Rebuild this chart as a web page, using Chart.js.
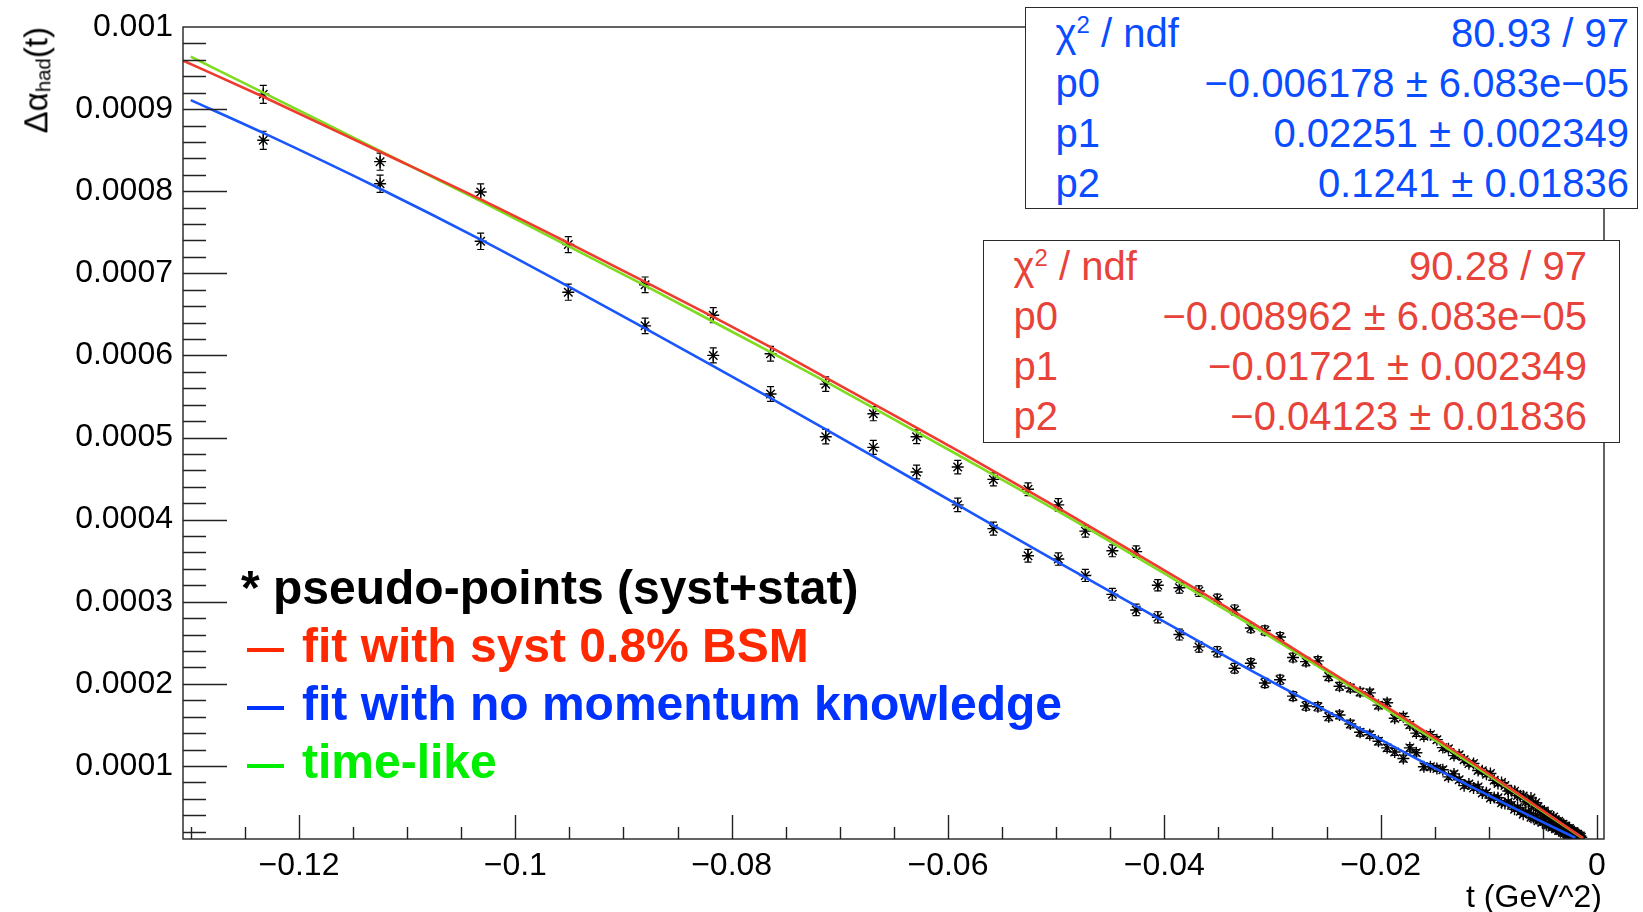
<!DOCTYPE html>
<html>
<head>
<meta charset="utf-8">
<script src="https://cdn.jsdelivr.net/npm/chart.js@4.4.1/dist/chart.umd.min.js"></script>
<style>
  html, body { margin: 0; padding: 0; background: #fff; }
  #wrap { position: relative; width: 1643px; height: 912px; overflow: hidden;
          font-family: "Liberation Sans", Arial, Helvetica, sans-serif; }
  #plot { position: absolute; left: 0; top: 0; }
  .stat { position: absolute; background: #fff; border: 1.5px solid #2a2a2a; box-sizing: border-box;
          display: flex; flex-direction: column; }
  .stat .row { flex: 1; display: flex; justify-content: space-between; align-items: center;
               font-size: 40px; white-space: nowrap; }
  .stat sup { font-size: 0.6em; vertical-align: 0.6em; line-height: 0; }
  .leg { position: absolute; font-size: 48px; line-height: 48px; font-weight: bold; white-space: nowrap; }
  .legdash { position: absolute; height: 4px; }
  #ytitle { position: absolute; top: 27px; right: 1624px; font-size: 33px; line-height: 33px;
            white-space: nowrap; transform-origin: top right; transform: rotate(-90deg); }
  #ytitle sub { font-size: 0.62em; vertical-align: -0.14em; line-height: 0; }
  #xtitle { position: absolute; top: 880px; right: 41px; font-size: 32px; line-height: 32px; white-space: nowrap; }
</style>
</head>
<body>
<div id="wrap">
  <canvas id="plot" width="1643" height="912"></canvas>
  <div id="ytitle">&Delta;&alpha;<sub>had</sub>(t)</div>
  <div id="xtitle">t (GeV^2)</div>
</div>
<script>
// momentum transfer t of every pseudo-point (GeV^2)
const tValues = [
  -0.1233, -0.1125, -0.1032, -0.0951, -0.0880, -0.0817, -0.0764, -0.0713, -0.0669, -0.0629,
  -0.0591, -0.0558, -0.0526, -0.0498, -0.0473, -0.0448, -0.0426, -0.0406, -0.0386, -0.0368,
  -0.0351, -0.0335, -0.0320, -0.0307, -0.0293, -0.0281, -0.0269, -0.0258, -0.0248, -0.0238,
  -0.0228, -0.0219, -0.0210, -0.0202, -0.0194, -0.0187, -0.0179, -0.0173, -0.0167, -0.0160,
  -0.0154, -0.0148,
  -0.01425, -0.01373, -0.01322, -0.01274, -0.01228, -0.01184, -0.01141, -0.01099, -0.01060, -0.01022,
  -0.00985, -0.00950, -0.00915, -0.00882, -0.00851, -0.00820, -0.00791, -0.00762, -0.00734, -0.00708,
  -0.00682, -0.00658, -0.00633, -0.00610, -0.00588, -0.00566, -0.00545, -0.00525, -0.00505, -0.00487,
  -0.00468, -0.00450, -0.00433, -0.00417, -0.00401, -0.00385, -0.00370, -0.00355, -0.00341, -0.00328,
  -0.00314, -0.00302, -0.00289, -0.00277, -0.00266, -0.00254, -0.00243, -0.00233, -0.00223, -0.00213,
  -0.00204, -0.00194, -0.00185, -0.00177, -0.00169, -0.00161, -0.00153, -0.00145
];

// pseudo-points generated with 0.8% BSM systematic (upper band)
const bsmPoints = [
  9.18e-4, 8.36e-4, 7.99e-4, 7.35e-4, 6.86e-4, 6.49e-4, 6.02e-4, 5.65e-4, 5.29e-4, 5.01e-4,
  4.64e-4, 4.49e-4, 4.37e-4, 4.18e-4, 3.86e-4, 3.62e-4, 3.61e-4, 3.20e-4, 3.17e-4, 3.13e-4,
  3.03e-4, 2.90e-4, 2.68e-4, 2.65e-4, 2.57e-4, 2.32e-4, 2.27e-4, 2.28e-4, 2.09e-4, 1.97e-4,
  1.95e-4, 1.90e-4, 1.89e-4, 1.74e-4, 1.77e-4, 1.58e-4, 1.60e-4, 1.50e-4, 1.40e-4, 1.36e-4,
  1.38e-4, 1.32e-4,
  1.223e-4, 1.209e-4, 1.126e-4, 1.135e-4, 1.075e-4, 1.028e-4, 1.031e-4, 9.45e-5, 9.41e-5, 8.98e-5,
  9.07e-5, 8.26e-5, 7.86e-5, 7.97e-5, 7.61e-5, 6.94e-5, 6.98e-5, 6.93e-5, 6.39e-5, 6.36e-5,
  6.33e-5, 5.62e-5, 5.61e-5, 6.10e-5, 5.11e-5, 5.52e-5, 5.03e-5, 4.56e-5, 4.48e-5, 4.52e-5,
  3.96e-5, 4.10e-5, 3.85e-5, 3.61e-5, 3.77e-5, 3.43e-5, 3.19e-5, 3.26e-5, 3.04e-5, 2.82e-5,
  2.90e-5, 2.69e-5, 2.68e-5, 2.37e-5, 2.37e-5, 2.37e-5, 2.17e-5, 1.98e-5, 1.99e-5, 2.00e-5,
  1.82e-5, 1.73e-5, 1.55e-5, 1.68e-5, 1.51e-5, 1.44e-5, 1.47e-5, 1.30e-5
];

// pseudo-points without momentum knowledge (lower band)
const noMomPoints = [
  8.62e-4, 8.09e-4, 7.39e-4, 6.77e-4, 6.36e-4, 6.00e-4, 5.53e-4, 5.01e-4, 4.88e-4, 4.58e-4,
  4.18e-4, 3.89e-4, 3.56e-4, 3.52e-4, 3.32e-4, 3.09e-4, 2.90e-4, 2.81e-4, 2.60e-4, 2.45e-4,
  2.39e-4, 2.19e-4, 2.25e-4, 2.01e-4, 2.05e-4, 1.85e-4, 1.73e-4, 1.72e-4, 1.60e-4, 1.62e-4,
  1.51e-4, 1.41e-4, 1.38e-4, 1.30e-4, 1.22e-4, 1.17e-4, 1.09e-4, 1.22e-4, 1.16e-4, 9.9e-5,
  9.9e-5, 9.7e-5,
  9.53e-5, 8.67e-5, 9.03e-5, 8.31e-5, 7.60e-5, 7.81e-5, 7.32e-5, 7.45e-5, 6.69e-5, 6.74e-5,
  6.09e-5, 6.16e-5, 6.13e-5, 5.52e-5, 5.41e-5, 5.61e-5, 5.22e-5, 4.73e-5, 4.95e-5, 4.48e-5,
  4.11e-5, 4.36e-5, 4.30e-5, 3.75e-5, 3.71e-5, 3.77e-5, 3.33e-5, 3.40e-5, 3.18e-5, 3.26e-5,
  2.84e-5, 2.83e-5, 2.82e-5, 2.52e-5, 2.61e-5, 2.41e-5, 2.42e-5, 2.12e-5, 2.13e-5, 2.15e-5,
  1.96e-5, 1.79e-5, 1.90e-5, 1.73e-5, 1.66e-5, 1.68e-5, 1.41e-5, 1.45e-5, 1.49e-5, 1.33e-5,
  1.27e-5, 1.11e-5, 1.15e-5, 1.20e-5, 1.05e-5, 1.00e-5, 8.5e-6, 9.0e-6
];

// syst+stat uncertainty of each pseudo-point
const pointErrors = [
  1.10e-5, 1.05e-5, 1.00e-5, 9.8e-6, 9.5e-6, 9.2e-6, 9.0e-6, 8.8e-6, 8.6e-6, 8.4e-6,
  8.2e-6, 8.0e-6, 7.8e-6, 7.6e-6, 7.4e-6, 7.2e-6, 7.0e-6, 6.8e-6, 6.6e-6, 6.4e-6,
  6.2e-6, 6.0e-6, 5.8e-6, 5.6e-6, 5.5e-6, 5.4e-6, 5.2e-6, 5.1e-6, 5.0e-6, 4.8e-6,
  4.7e-6, 4.6e-6, 4.5e-6, 4.4e-6, 4.3e-6, 4.2e-6, 4.1e-6, 4.0e-6, 3.9e-6, 3.8e-6,
  3.7e-6, 3.6e-6,
  3.5e-6, 3.4e-6, 3.3e-6, 3.3e-6, 3.2e-6, 3.1e-6, 3.1e-6, 3.0e-6, 2.9e-6, 2.9e-6,
  2.8e-6, 2.8e-6, 2.7e-6, 2.7e-6, 2.6e-6, 2.6e-6, 2.5e-6, 2.5e-6, 2.4e-6, 2.4e-6,
  2.3e-6, 2.3e-6, 2.2e-6, 2.2e-6, 2.2e-6, 2.1e-6, 2.1e-6, 2.0e-6, 2.0e-6, 2.0e-6,
  1.9e-6, 1.9e-6, 1.9e-6, 1.8e-6, 1.8e-6, 1.8e-6, 1.7e-6, 1.7e-6, 1.7e-6, 1.6e-6,
  1.6e-6, 1.6e-6, 1.5e-6, 1.5e-6, 1.5e-6, 1.5e-6, 1.4e-6, 1.4e-6, 1.4e-6, 1.4e-6,
  1.3e-6, 1.3e-6, 1.3e-6, 1.3e-6, 1.2e-6, 1.2e-6, 1.2e-6, 1.2e-6
];

// fit with syst 0.8% BSM (red curve)
const bsmFitT = [-0.1307, -0.1233, -0.1125, -0.1032, -0.0951, -0.0880, -0.0817, -0.0764, -0.0713, -0.0669,
                 -0.0591, -0.0498, -0.0423, -0.0311, -0.0284, -0.0200, -0.0145, -0.0080, -0.0013];
const bsmFitV = [9.59e-4, 9.15e-4, 8.48e-4, 7.90e-4, 7.37e-4, 6.895e-4, 6.47e-4, 6.10e-4, 5.73e-4, 5.41e-4,
                 4.84e-4, 4.14e-4, 3.56e-4, 2.68e-4, 2.455e-4, 1.766e-4, 1.301e-4, 7.26e-5, 1.22e-5];

// fit with no momentum knowledge (blue curve)
const noMomFitT = [-0.1300, -0.1233, -0.1125, -0.1032, -0.0951, -0.0880, -0.0817, -0.0764, -0.0713, -0.0669,
                   -0.0591, -0.0498, -0.0406, -0.0311, -0.0200, -0.0145, -0.0080, -0.0020];
const noMomFitV = [9.11e-4, 8.71e-4, 8.03e-4, 7.41e-4, 6.84e-4, 6.33e-4, 5.87e-4, 5.48e-4, 5.10e-4, 4.77e-4,
                   4.18e-4, 3.48e-4, 2.80e-4, 2.10e-4, 1.32e-4, 9.39e-5, 5.08e-5, 1.25e-5];

// time-like prediction (green curve)
const timeLikeT = [-0.1300, -0.1233, -0.1125, -0.1032, -0.0951, -0.0880, -0.0817, -0.0764, -0.0713, -0.0669,
                   -0.0591, -0.0498, -0.0406, -0.0311, -0.0200, -0.0145, -0.0080, -0.0013];
const timeLikeV = [9.64e-4, 9.20e-4, 8.49e-4, 7.88e-4, 7.33e-4, 6.85e-4, 6.41e-4, 6.04e-4, 5.68e-4, 5.36e-4,
                   4.79e-4, 4.10e-4, 3.39e-4, 2.645e-4, 1.735e-4, 1.272e-4, 7.1e-5, 1.17e-5];

// axis ticks and labels
const xTickValues = [-0.12, -0.1, -0.08, -0.06, -0.04, -0.02, 0];
const xTickLabels = ['\u22120.12', '\u22120.1', '\u22120.08', '\u22120.06', '\u22120.04', '\u22120.02', '0'];
const yTickValues = [0.0001, 0.0002, 0.0003, 0.0004, 0.0005, 0.0006, 0.0007, 0.0008, 0.0009, 0.001];
const yTickLabels = ['0.0001', '0.0002', '0.0003', '0.0004', '0.0005', '0.0006', '0.0007', '0.0008', '0.0009', '0.001'];

// fit statistics boxes
const statNames = ['p0', 'p1', 'p2'];
const noMomChi2 = '80.93 / 97';
const noMomParams = ['\u22120.006178 \u00b1 6.083e\u221205', '0.02251 \u00b1 0.002349', '0.1241 \u00b1 0.01836'];
const bsmChi2 = '90.28 / 97';
const bsmParams = ['\u22120.008962 \u00b1 6.083e\u221205', '\u22120.01721 \u00b1 0.002349', '\u22120.04123 \u00b1 0.01836'];

// legend entries
const legendLabels = ['* pseudo-points (syst+stat)', 'fit with syst 0.8% BSM', 'fit with no momentum knowledge', 'time-like'];
const legendColors = ['#000000', '#ff2800', '#0032ff', '#00ee00'];

const FONT = '"Liberation Sans", Arial, Helvetica, sans-serif';
const toXY = (xs, ys) => xs.map((x, i) => ({ x: x, y: ys[i] }));

// build stat boxes
function statBox(left, top, width, height, padL, padR, color, chi2, params) {
  const box = document.createElement('div');
  box.className = 'stat';
  Object.assign(box.style, { left: left + 'px', top: top + 'px', width: width + 'px', height: height + 'px',
    paddingLeft: padL + 'px', paddingRight: padR + 'px', color: color });
  const rows = [['\u03c7<sup>2</sup> / ndf', chi2]].concat(statNames.map((n, i) => [n, params[i]]));
  rows.forEach(r => {
    const row = document.createElement('div');
    row.className = 'row';
    const a = document.createElement('span'); a.innerHTML = r[0];
    const b = document.createElement('span'); b.textContent = r[1];
    row.appendChild(a); row.appendChild(b);
    box.appendChild(row);
  });
  document.getElementById('wrap').appendChild(box);
}
statBox(1025, 7, 613, 202, 29.5, 8, '#0a4cff', noMomChi2, noMomParams);
statBox(983, 240, 637, 203, 29.5, 32, '#e8433a', bsmChi2, bsmParams);

// build legend
const legendBaselines = [605, 663, 721, 779];
legendLabels.forEach((txt, i) => {
  const d = document.createElement('div');
  d.className = 'leg';
  d.style.color = legendColors[i];
  d.style.left = (i === 0 ? 241 : 302) + 'px';
  d.style.top = (legendBaselines[i] - 40.6) + 'px';
  d.textContent = txt;
  document.getElementById('wrap').appendChild(d);
  if (i > 0) {
    const bar = document.createElement('div');
    bar.className = 'legdash';
    Object.assign(bar.style, { left: '247px', width: '37px', top: (legendBaselines[i] - 15) + 'px', background: legendColors[i] });
    document.getElementById('wrap').appendChild(bar);
  }
});

// ROOT-style frame with inward major/minor ticks
const frameTicks = {
  id: 'frameTicks',
  afterDraw(chart) {
    const { ctx, chartArea: a, scales: { x, y } } = chart;
    ctx.save();
    ctx.strokeStyle = '#222';
    ctx.lineWidth = 1.4;
    ctx.strokeRect(a.left, a.top, a.right - a.left, a.bottom - a.top);
    ctx.beginPath();
    for (let k = 1; k <= 49; k++) {
      const v = k * 0.00002;
      if (v < y.min || v > y.max) continue;
      const py = Math.round(y.getPixelForValue(v)) + 0.5;
      ctx.moveTo(a.left, py);
      ctx.lineTo(a.left + (k % 5 === 0 ? 44 : 23), py);
    }
    for (let k = -26; k <= 0; k++) {
      const v = k * 0.005;
      if (v < x.min || v > x.max) continue;
      const px = Math.round(x.getPixelForValue(v)) + 0.5;
      ctx.moveTo(px, a.bottom);
      ctx.lineTo(px, a.bottom - (k % 4 === 0 ? 24 : 12));
    }
    ctx.stroke();
    ctx.restore();
  }
};

// vertical error bars with small caps for the pseudo-points
const errorBars = {
  id: 'errorBars',
  beforeDatasetsDraw(chart) {
    const { ctx, chartArea: a, scales: { x, y } } = chart;
    ctx.save();
    ctx.beginPath();
    ctx.rect(a.left, a.top, a.right - a.left, a.bottom - a.top);
    ctx.clip();
    ctx.strokeStyle = '#000';
    ctx.lineWidth = 1.2;
    [bsmPoints, noMomPoints].forEach(vals => {
      vals.forEach((v, i) => {
        const px = x.getPixelForValue(tValues[i]);
        const top = y.getPixelForValue(v + pointErrors[i]);
        const bot = y.getPixelForValue(v - pointErrors[i]);
        ctx.beginPath();
        ctx.moveTo(px, top); ctx.lineTo(px, bot);
        ctx.moveTo(px - 3.5, top); ctx.lineTo(px + 3.5, top);
        ctx.moveTo(px - 3.5, bot); ctx.lineTo(px + 3.5, bot);
        ctx.stroke();
      });
    });
    ctx.restore();
  }
};

const curve = (label, data, color, order) => ({
  label, data, order, showLine: true, borderColor: color, borderWidth: 2.6,
  pointRadius: 0, cubicInterpolationMode: 'monotone', fill: false
});
const markers = (label, data, order) => ({
  label, data, order, showLine: false, pointStyle: 'star', pointRadius: 6,
  borderColor: '#000', backgroundColor: '#000', pointBorderWidth: 1.4
});

new Chart(document.getElementById('plot'), {
  type: 'scatter',
  data: {
    datasets: [
      curve('fit with syst 0.8% BSM', toXY(bsmFitT, bsmFitV), '#ef3a2d', 0),
      curve('time-like', toXY(timeLikeT, timeLikeV), '#7edc1e', 1),
      curve('fit with no momentum knowledge', toXY(noMomFitT, noMomFitV), '#1a56ff', 2),
      markers('pseudo-points BSM', toXY(tValues, bsmPoints), 5),
      markers('pseudo-points no momentum', toXY(tValues, noMomPoints), 6)
    ]
  },
  options: {
    responsive: false,
    devicePixelRatio: 1,
    animation: false,
    events: [],
    layout: { padding: { left: 0, right: 39, top: 27, bottom: 0 } },
    plugins: { legend: { display: false }, tooltip: { enabled: false } },
    scales: {
      x: {
        type: 'linear', min: -0.13072, max: 0.00065,
        grid: { display: false }, border: { display: false },
        afterBuildTicks: s => { s.ticks = xTickValues.map(v => ({ value: v })); },
        afterFit: s => { s.height = 73; },
        ticks: {
          autoSkip: false, maxRotation: 0, padding: 0, color: '#000',
          font: { family: FONT, size: 32 },
          callback: (v, i) => xTickLabels[i]
        }
      },
      y: {
        type: 'linear', min: 1.1e-5, max: 0.001,
        grid: { display: false }, border: { display: false },
        afterBuildTicks: s => { s.ticks = yTickValues.map(v => ({ value: v })); },
        afterFit: s => { s.width = 183; },
        ticks: {
          autoSkip: false, padding: 2, color: '#000',
          font: { family: FONT, size: 32 },
          callback: (v, i) => yTickLabels[i]
        }
      }
    }
  },
  plugins: [errorBars, frameTicks]
});
</script>
</body>
</html>
